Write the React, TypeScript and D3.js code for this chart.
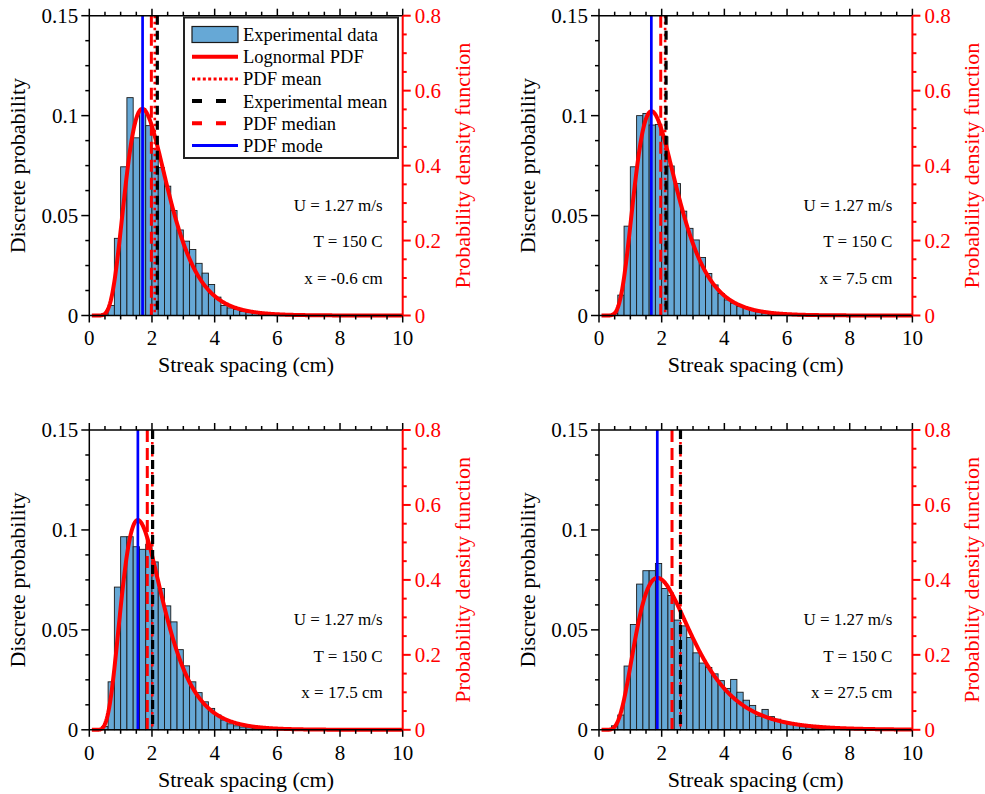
import React from 'react';
import * as d3 from 'd3';

// ---------- data ----------
const binStarts = [0.4, 0.6, 0.8, 1.0, 1.2, 1.4, 1.6, 1.8, 2.0, 2.2, 2.4, 2.6, 2.8, 3.0, 3.2, 3.4, 3.6, 3.8, 4.0, 4.2, 4.4, 4.6, 4.8, 5.0, 5.2, 5.4, 5.6, 5.8, 6.0, 6.2, 6.4, 6.6, 6.8, 7.0];
const binWidth = 0.2;

const barsP1 = [0.001, 0.005, 0.0386, 0.0744, 0.109, 0.0889, 0.1036, 0.095, 0.0836, 0.074, 0.0647, 0.0525, 0.0428, 0.0372, 0.033, 0.0261, 0.0212, 0.0155, 0.0092, 0.005, 0.0038, 0.003, 0.002, 0.0015, 0.001, 0.0008, 0.0005, 0.0003, 0.0002, 0, 0, 0, 0, 0];
const barsP2 = [0.001, 0.0102, 0.0447, 0.0744, 0.1, 0.1011, 0.0953, 0.0956, 0.0894, 0.0748, 0.066, 0.0522, 0.0436, 0.0378, 0.029, 0.021, 0.0153, 0.011, 0.0078, 0.0061, 0.0045, 0.0035, 0.0025, 0.0018, 0.0012, 0.0008, 0.0005, 0.0003, 0, 0, 0, 0, 0, 0];
const barsP3 = [0.0016, 0.024, 0.0714, 0.0966, 0.0966, 0.0916, 0.0903, 0.0928, 0.084, 0.0707, 0.062, 0.054, 0.0401, 0.032, 0.024, 0.0186, 0.014, 0.0107, 0.0074, 0.0049, 0.003, 0.002, 0.0014, 0.001, 0.0007, 0.0005, 0.0003, 0, 0, 0, 0, 0, 0, 0];
const barsP4 = [0.002, 0.0074, 0.0319, 0.0527, 0.0729, 0.0796, 0.0796, 0.0832, 0.0707, 0.0672, 0.0549, 0.052, 0.0462, 0.0385, 0.0334, 0.0312, 0.028, 0.0246, 0.0207, 0.0252, 0.0188, 0.0148, 0.0122, 0.0068, 0.0102, 0.0066, 0.0053, 0.0041, 0.003, 0.0022, 0.0015, 0.001, 0.0007, 0.0005];

// lognormal PDF parameters (fitted curve)
const pdfMu = [0.683, 0.678, 0.615, 0.846];
const pdfSigma = [0.395, 0.403, 0.421, 0.472];
const pdfModes = [1.70, 1.67, 1.55, 1.86];
const pdfMedians = [1.98, 1.97, 1.85, 2.33];
const pdfMeans = [2.09, 2.11, 2.01, 2.60];
const expMeans = [2.17, 2.14, 2.02, 2.60];

const positionLabels = ['x = -0.6 cm', 'x = 7.5 cm', 'x = 17.5 cm', 'x = 27.5 cm'];
const velocityLabel = 'U = 1.27 m/s';
const tempLabel = 'T = 150 C';

const xTicks = [0, 2, 4, 6, 8, 10];
const leftTicks = [0, 0.05, 0.1, 0.15];
const leftTickLabels = ['0', '0.05', '0.1', '0.15'];
const rightTicks = [0, 0.2, 0.4, 0.6, 0.8];
const rightTickLabels = ['0', '0.2', '0.4', '0.6', '0.8'];

const legendLabels = ['Experimental data', 'Lognormal PDF', 'PDF mean', 'Experimental mean', 'PDF median', 'PDF mode'];

// ---------- layout ----------
const W = 313.4;
const H = 299.8;
const origins: [number, number][] = [[89.3, 15.7], [599, 15.7], [89.3, 430], [599, 430]];
const FONT = '"Liberation Serif", "Times New Roman", Times, serif';
const RED = '#ff0000';
const BLUE = '#0000ff';
const BAR = '#66a8d6';

function Panel({ idx }: { idx: number }) {
  const [ox, oy] = origins[idx];
  const bars = [barsP1, barsP2, barsP3, barsP4][idx];
  const x = d3.scaleLinear().domain([0, 10]).range([0, W]);
  const yL = d3.scaleLinear().domain([0, 0.15]).range([H, 0]);
  const yR = d3.scaleLinear().domain([0, 0.8]).range([H, 0]);
  const mu = pdfMu[idx];
  const s = pdfSigma[idx];
  const pdf = (v: number) => Math.exp(-Math.pow(Math.log(v) - mu, 2) / (2 * s * s)) / (v * s * Math.sqrt(2 * Math.PI));
  const xs = d3.range(0.08, 10.0001, 0.02);
  const line = d3.line<number>().x((v) => x(v)).y((v) => yR(pdf(v)));
  const xMinor = d3.range(0, 10.001, 0.5);
  const lMinor = d3.range(0, 0.15001, 0.0125);
  const rMinor = d3.range(0, 0.8001, 0.05);

  const vline = (v: number, color: string, width: number, dash?: string) => (
    <line x1={x(v)} x2={x(v)} y1={0} y2={H} stroke={color} strokeWidth={width} strokeDasharray={dash} />
  );

  return (
    <g transform={`translate(${ox},${oy})`}>
      {/* bars */}
      {binStarts.map((b, i) =>
        bars[i] > 0 ? (
          <rect key={i} x={x(b)} y={yL(bars[i])} width={x(b + binWidth) - x(b)} height={H - yL(bars[i])}
            fill={BAR} stroke="#1a1a1a" strokeWidth={0.9} />
        ) : null
      )}
      {/* fitted curve */}
      <path d={line(xs) || ''} fill="none" stroke={RED} strokeWidth={4} strokeLinejoin="round" />
      {/* vertical markers */}
      {vline(pdfMedians[idx], RED, 3, '12,6')}
      {vline(pdfMeans[idx], RED, 2.6, '2.5,3.5')}
      {vline(expMeans[idx], '#000', 3.2, '9,6')}
      {vline(pdfModes[idx], BLUE, 2.7)}

      {/* frame */}
      <line x1={0} x2={W} y1={0} y2={0} stroke="#000" strokeWidth={1.5} />
      <line x1={0} x2={W} y1={H} y2={H} stroke="#000" strokeWidth={1.5} />
      <line x1={0} x2={0} y1={0} y2={H} stroke="#000" strokeWidth={1.5} />
      <line x1={W} x2={W} y1={0} y2={H} stroke={RED} strokeWidth={2} />

      {/* bottom & top ticks */}
      {xMinor.map((v, i) => {
        const major = xTicks.includes(Math.round(v * 10) / 10);
        const len = major ? 7 : 4;
        return (
          <g key={i}>
            <line x1={x(v)} x2={x(v)} y1={H} y2={H + len} stroke="#000" strokeWidth={1.5} />
            <line x1={x(v)} x2={x(v)} y1={0} y2={-len} stroke="#000" strokeWidth={1.5} />
          </g>
        );
      })}
      {xTicks.map((v) => (
        <text key={v} x={x(v)} y={H + 30} textAnchor="middle" fontSize={21} fontFamily={FONT} fill="#000">{v}</text>
      ))}
      {/* left ticks */}
      {lMinor.map((v, i) => {
        const major = i % 4 === 0;
        return <line key={i} x1={0} x2={major ? -8 : -4} y1={yL(v)} y2={yL(v)} stroke="#000" strokeWidth={1.5} />;
      })}
      {leftTicks.map((v, i) => (
        <text key={i} x={-11} y={yL(v)} dy="0.35em" textAnchor="end" fontSize={21} fontFamily={FONT} fill="#000">{leftTickLabels[i]}</text>
      ))}
      {/* right ticks */}
      {rMinor.map((v, i) => {
        const major = i % 4 === 0;
        return <line key={i} x1={W} x2={W + (major ? 8 : 4)} y1={yR(v)} y2={yR(v)} stroke={RED} strokeWidth={2} />;
      })}
      {rightTicks.map((v, i) => (
        <text key={i} x={W + 12} y={yR(v)} dy="0.35em" textAnchor="start" fontSize={21} fontFamily={FONT} fill={RED}>{rightTickLabels[i]}</text>
      ))}

      {/* axis titles */}
      <text x={W / 2} y={H + 57} textAnchor="middle" fontSize={22} fontFamily={FONT} fill="#000">Streak spacing (cm)</text>
      <text transform={`translate(${-64},${H / 2}) rotate(-90)`} textAnchor="middle" fontSize={22} fontFamily={FONT} fill="#000">Discrete probability</text>
      <text transform={`translate(${W + 67},${H / 2}) rotate(-90)`} textAnchor="middle" fontSize={22} fontFamily={FONT} fill={RED}>Probability density function</text>

      {/* annotations */}
      <text x={W - 20} y={195} textAnchor="end" fontSize={17} fontFamily={FONT} fill="#000">{velocityLabel}</text>
      <text x={W - 20} y={231.5} textAnchor="end" fontSize={17} fontFamily={FONT} fill="#000">{tempLabel}</text>
      <text x={W - 20} y={268} textAnchor="end" fontSize={17} fontFamily={FONT} fill="#000">{positionLabels[idx]}</text>

      {idx === 0 ? <Legend /> : null}
    </g>
  );
}

function Legend() {
  // local coords relative to panel 1 origin
  const lx = 184 - 89.3;
  const ly = 17.5 - 15.7;
  const w = 214;
  const h = 140.5;
  const sx1 = 192 - 89.3;
  const sx2 = 238 - 89.3;
  const tx = 243 - 89.3;
  const rowY = (i: number) => 34.5 - 15.7 + 22.2 * i;
  return (
    <g>
      <rect x={lx} y={ly} width={w} height={h} fill="#fff" stroke="#222" strokeWidth={2} />
      <rect x={sx1} y={rowY(0) - 8} width={sx2 - sx1} height={16} fill={BAR} stroke="#1a1a1a" strokeWidth={1.2} />
      <line x1={sx1} x2={sx2} y1={rowY(1)} y2={rowY(1)} stroke={RED} strokeWidth={4} />
      <line x1={sx1} x2={sx2} y1={rowY(2)} y2={rowY(2)} stroke={RED} strokeWidth={3} strokeDasharray="3,2.4" />
      <line x1={sx1} x2={sx2} y1={rowY(3)} y2={rowY(3)} stroke="#000" strokeWidth={4} strokeDasharray="10,14" />
      <line x1={sx1} x2={sx2} y1={rowY(4)} y2={rowY(4)} stroke={RED} strokeWidth={4} strokeDasharray="10,14" />
      <line x1={sx1} x2={sx2} y1={rowY(5)} y2={rowY(5)} stroke={BLUE} strokeWidth={3} />
      {legendLabels.map((t, i) => (
        <text key={t} x={tx} y={rowY(i)} dy="0.35em" fontSize={18.5} fontFamily={FONT} fill="#000">{t}</text>
      ))}
    </g>
  );
}

export default function App() {
  return (
    <svg width={985} height={794} viewBox="0 0 985 794"
      style={{ position: 'absolute', left: 0, top: 0, background: '#fff', display: 'block' }}>
      <rect x={0} y={0} width={985} height={794} fill="#fff" />
      {[0, 1, 2, 3].map((i) => <Panel key={i} idx={i} />)}
    </svg>
  );
}
